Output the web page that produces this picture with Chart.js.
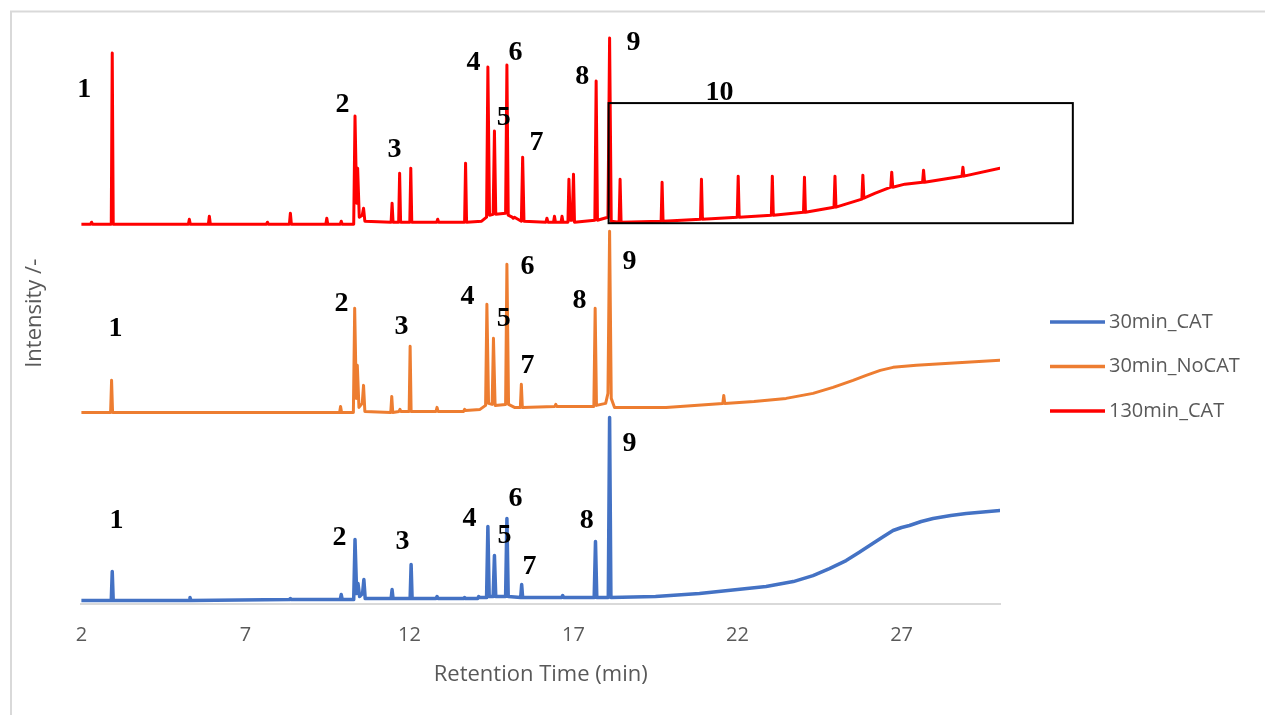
<!DOCTYPE html>
<html>
<head>
<meta charset="utf-8">
<script src="https://cdn.jsdelivr.net/npm/chart.js@4"></script>
<style>
  body { margin: 0; background: #fff; }
  #wrap { width: 1265px; height: 715px; }
</style>
</head>
<body>
<div id="wrap"><canvas id="myChart" width="1265" height="715"></canvas></div>
<script>
// retention time (min), intensity (offset stacked, arbitrary units)
const cat30 = [
  [2.0, 3], [2.91, 3], [2.94, 32], [2.97, 3], [5.28, 3], [5.31, 6], [5.34, 3],
  [8.34, 4], [8.37, 5], [8.40, 4], [9.89, 4], [9.92, 9], [9.95, 4],
  [10.30, 4], [10.34, 64], [10.39, 10], [10.43, 20], [10.48, 7], [10.57, 10], [10.61, 24], [10.65, 5],
  [11.44, 5], [11.47, 14], [11.50, 5], [12.02, 5], [12.05, 39], [12.08, 5],
  [12.81, 5], [12.84, 7], [12.87, 5], [13.65, 5], [13.68, 6], [13.71, 5], [14.08, 5], [14.11, 7], [14.14, 6],
  [14.35, 6], [14.39, 77], [14.43, 7], [14.55, 7], [14.59, 48], [14.63, 7], [14.93, 7], [14.97, 85], [15.01, 7],
  [15.39, 6], [15.42, 19], [15.45, 6], [16.64, 6], [16.67, 8], [16.70, 6],
  [17.63, 6], [17.67, 62], [17.71, 6], [18.06, 6], [18.10, 186], [18.14, 6],
  [19.5, 7], [20.84, 10], [22.87, 17], [23.7, 22], [24.30, 28], [24.8, 35], [25.31, 43], [25.7, 51],
  [26.12, 60], [26.45, 67], [26.74, 73], [27.0, 76], [27.24, 78], [27.6, 82], [27.96, 85], [28.5, 88], [28.97, 90], [30.0, 93]
];
const noCat30 = [
  [2.0, 191], [2.89, 191], [2.92, 223], [2.95, 191], [9.87, 191], [9.90, 197], [9.93, 191],
  [10.29, 191], [10.33, 295], [10.38, 205], [10.41, 238], [10.46, 196], [10.56, 200], [10.60, 218], [10.64, 192],
  [11.43, 191], [11.46, 207], [11.49, 191], [11.68, 192], [11.71, 194], [11.74, 192],
  [11.99, 192], [12.02, 257], [12.05, 192], [12.81, 192], [12.84, 196], [12.87, 192],
  [13.65, 192], [13.68, 194], [13.71, 193], [14.15, 194], [14.32, 198], [14.36, 299], [14.41, 200],
  [14.52, 199], [14.56, 265], [14.61, 198], [14.93, 199], [14.97, 339], [15.02, 199], [15.20, 196],
  [15.38, 196], [15.41, 219], [15.44, 196], [16.43, 197], [16.46, 199], [16.49, 197],
  [17.62, 197], [17.66, 295], [17.70, 198], [17.98, 200], [18.05, 210], [18.10, 372], [18.15, 205], [18.25, 196],
  [19.82, 196], [21.55, 200], [21.58, 208], [21.61, 200], [22.5, 202], [23.48, 205], [24.30, 210],
  [24.91, 216], [25.52, 223], [25.92, 228], [26.35, 233], [26.74, 236], [27.45, 238], [28.46, 240], [30.0, 243]
];
const cat130 = [
  [2.0, 379], [2.28, 379], [2.31, 381], [2.34, 379], [2.91, 379], [2.94, 550], [2.97, 379],
  [5.26, 379], [5.29, 384], [5.32, 379], [5.87, 379], [5.90, 387], [5.93, 379],
  [7.64, 379], [7.67, 381], [7.70, 379], [8.34, 379], [8.37, 390], [8.40, 379],
  [9.45, 379], [9.48, 385], [9.51, 379], [9.89, 379], [9.92, 382], [9.95, 379],
  [10.30, 379], [10.34, 487], [10.39, 400], [10.42, 435], [10.47, 386], [10.56, 388], [10.60, 395], [10.64, 382],
  [11.44, 381], [11.47, 400], [11.50, 381], [11.67, 381], [11.70, 430], [11.73, 381],
  [12.01, 381], [12.04, 435], [12.07, 381], [12.83, 381], [12.86, 384], [12.89, 381],
  [13.68, 381], [13.71, 440], [13.74, 381], [14.2, 382], [14.35, 386], [14.39, 536], [14.44, 388],
  [14.55, 389], [14.59, 472], [14.63, 389], [14.93, 390], [14.97, 538], [15.01, 388], [15.13, 386],
  [15.16, 385], [15.20, 386], [15.41, 382], [15.45, 446], [15.49, 382],
  [16.16, 381], [16.19, 385], [16.22, 381], [16.39, 381], [16.42, 387], [16.45, 381],
  [16.62, 381], [16.65, 387], [16.68, 381], [16.83, 381], [16.86, 424], [16.90, 383], [16.96, 383],
  [17.00, 429], [17.03, 381], [17.65, 383], [17.69, 522], [17.73, 383], [18.05, 386], [18.10, 565], [18.15, 382],
  [18.39, 381], [18.42, 424], [18.45, 381], [19.67, 382], [19.70, 421], [19.73, 382],
  [20.87, 384], [20.90, 424], [20.93, 384], [21.99, 386], [22.02, 427], [22.05, 386],
  [23.03, 388], [23.06, 427], [23.09, 388], [24.01, 391], [24.04, 426], [24.07, 391],
  [24.94, 396], [24.97, 427], [25.00, 396], [25.79, 404], [25.82, 428], [25.85, 405], [26.2, 410],
  [26.67, 416], [26.70, 431], [26.73, 416], [27.1, 419], [27.64, 421], [27.67, 433], [27.70, 421],
  [28.84, 427], [28.87, 436], [28.90, 427], [30.0, 435]
];

const seriesNames = ['30min_CAT', '30min_NoCAT', '130min_CAT'];
const xTickValues = [2, 7, 12, 17, 22, 27];

// peak numbers, anchored in data units
const peakLabels = ['1', '2', '3', '4', '5', '6', '7', '8', '9'];
const labelPosCat30 = [[3.07, 83], [9.87, 66], [11.79, 62], [13.83, 85], [14.90, 68], [15.23, 105], [15.66, 37], [17.40, 83], [18.71, 160]];
const labelPosNoCat30 = [[3.04, 275], [9.93, 300], [11.76, 277], [13.77, 307], [14.87, 285], [15.60, 336], [15.60, 238], [17.18, 303], [18.71, 341]];
const labelPosCat130 = [[2.09, 513], [9.96, 498], [11.54, 453], [13.95, 540], [14.87, 485], [15.23, 550], [15.87, 460], [17.27, 526], [18.83, 560]];
const label10 = [21.45, 510];
const boxX = [18.07, 32.22];
const boxY = [380, 500];

const colors = ['#4472C4', '#ED7D31', '#FF0000'];
const grey = '#595959';

const toXY = arr => arr.map(p => ({ x: p[0], y: p[1] }));

const overlay = {
  id: 'overlay',
  beforeDraw(chart) {
    const ctx = chart.ctx;
    ctx.save();
    ctx.strokeStyle = '#d9d9d9';
    ctx.lineWidth = 2;
    ctx.beginPath();
    ctx.moveTo(11, 715);
    ctx.lineTo(11, 11.5);
    ctx.lineTo(1265, 11.5);
    ctx.stroke();
    ctx.restore();
  },
  afterDraw(chart) {
    const ctx = chart.ctx;
    const xs = chart.scales.x, ys = chart.scales.y;
    ctx.save();
    // box around the late peaks
    ctx.strokeStyle = '#000';
    ctx.lineWidth = 2;
    const bx0 = xs.getPixelForValue(boxX[0]), bx1 = xs.getPixelForValue(boxX[1]);
    const by0 = ys.getPixelForValue(boxY[1]), by1 = ys.getPixelForValue(boxY[0]);
    ctx.strokeRect(bx0, by0, bx1 - bx0, by1 - by0);

    ctx.fillStyle = '#000';
    ctx.font = 'bold 28px "Liberation Serif"';
    ctx.textAlign = 'center';
    ctx.textBaseline = 'middle';
    [labelPosCat30, labelPosNoCat30, labelPosCat130].forEach(list => {
      list.forEach((p, i) => {
        ctx.fillText(peakLabels[i], xs.getPixelForValue(p[0]), ys.getPixelForValue(p[1]));
      });
    });
    ctx.fillText('10', xs.getPixelForValue(label10[0]), ys.getPixelForValue(label10[1]));

    // legend
    ctx.font = '20px "Open Sans"';
    ctx.textAlign = 'left';
    ctx.lineWidth = 3.5;
    seriesNames.forEach((name, i) => {
      const y = 322 + i * 44.5;
      ctx.strokeStyle = colors[i];
      ctx.beginPath();
      ctx.moveTo(1050, y);
      ctx.lineTo(1105, y);
      ctx.stroke();
      ctx.fillStyle = grey;
      ctx.fillText(name, 1109, y);
    });
    ctx.restore();
  }
};

const ctx = document.getElementById('myChart').getContext('2d');
new Chart(ctx, {
  type: 'line',
  data: {
    datasets: [cat30, noCat30, cat130].map((d, i) => ({
      label: seriesNames[i],
      data: toXY(d),
      borderColor: colors[i],
      backgroundColor: colors[i],
      borderWidth: i === 0 ? 3.5 : 3,
      borderJoinStyle: 'round',
      borderCapStyle: 'round',
      pointRadius: 0,
      tension: 0,
      fill: false,
      order: 3 - i
    }))
  },
  options: {
    responsive: false,
    animation: false,
    layout: { padding: { left: 18, right: 265, top: 23, bottom: 23 } },
    plugins: { legend: { display: false }, tooltip: { enabled: false } },
    scales: {
      x: {
        type: 'linear',
        min: 2,
        max: 30,
        afterBuildTicks: axis => { axis.ticks = xTickValues.map(v => ({ value: v })); },
        grid: { display: false },
        border: { display: true, color: '#d9d9d9', width: 2 },
        ticks: { color: grey, font: { family: 'Open Sans', size: 20 }, padding: 12 },
        title: {
          display: true,
          text: 'Retention Time (min)',
          color: grey,
          font: { family: 'Open Sans', size: 22 },
          padding: { top: 2, bottom: 4 }
        }
      },
      y: {
        min: 0,
        max: 580,
        grid: { display: false },
        border: { display: false },
        ticks: { display: false },
        title: {
          display: true,
          text: 'Intensity /-',
          color: grey,
          font: { family: 'Open Sans', size: 22 },
          padding: { top: 4, bottom: 25 }
        }
      }
    }
  },
  plugins: [overlay]
});
</script>
</body>
</html>
